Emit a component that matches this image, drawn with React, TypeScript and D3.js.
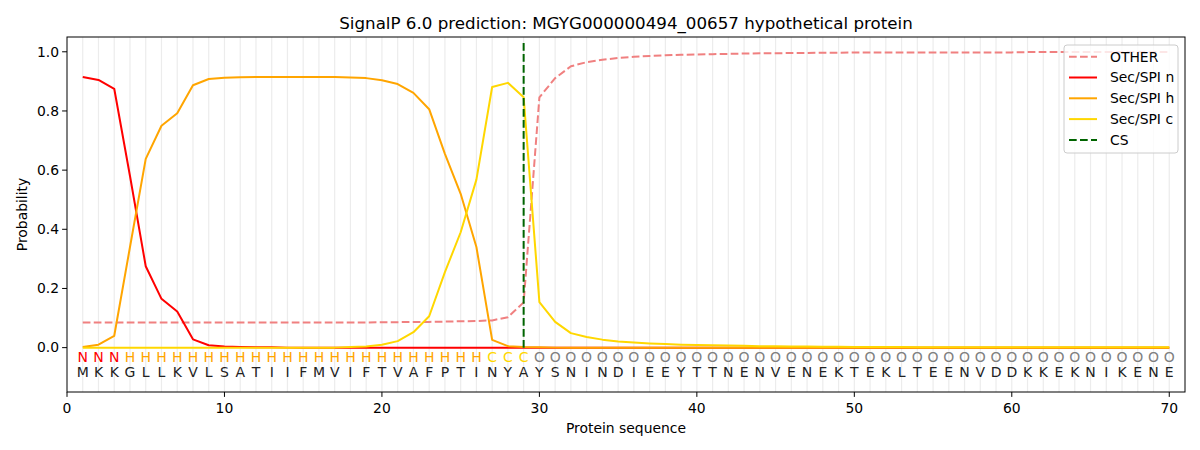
import * as d3 from 'd3';

// Sequence and per-residue predicted labels
const SEQUENCE = 'MKKGLLKVLSATIIFMVIFTVAFPTINYAYSNINDIEEYTTNENVENEKTEKLTEENVDDKKEKNIKENE'.split('');
const PRED_LABELS = 'NNNHHHHHHHHHHHHHHHHHHHHHHHCCCOOOOOOOOOOOOOOOOOOOOOOOOOOOOOOOOOOOOOOOOO'.split('');

const OTHER = [
  0.085, 0.085, 0.085, 0.085, 0.085, 0.085, 0.085, 0.085, 0.085, 0.085,
  0.085, 0.085, 0.085, 0.085, 0.085, 0.085, 0.085, 0.085, 0.085, 0.086,
  0.086, 0.087, 0.087, 0.088, 0.089, 0.090, 0.092, 0.103, 0.153, 0.846,
  0.911, 0.951, 0.965, 0.973, 0.979, 0.983, 0.986, 0.988, 0.990, 0.991,
  0.992, 0.993, 0.994, 0.995, 0.995, 0.996, 0.996, 0.997, 0.997, 0.998,
  0.998, 0.998, 0.998, 0.998, 0.998, 0.998, 0.998, 0.998, 0.998, 0.998,
  0.999, 0.999, 0.999, 0.999, 0.999, 0.999, 0.999, 0.999, 0.999, 0.999,
];
const SEC_N = [
  0.915, 0.905, 0.875, 0.580, 0.275, 0.165, 0.122, 0.028, 0.008, 0.004,
  0.002, 0.001, 0.001, 0, 0, 0, 0, 0, 0, 0,
  0, 0, 0, 0, 0, 0, 0, 0, 0, 0,
  0, 0, 0, 0, 0, 0, 0, 0, 0, 0,
  0, 0, 0, 0, 0, 0, 0, 0, 0, 0,
  0, 0, 0, 0, 0, 0, 0, 0, 0, 0,
  0, 0, 0, 0, 0, 0, 0, 0, 0, 0,
];
const SEC_H = [
  0.002, 0.010, 0.040, 0.340, 0.638, 0.750, 0.792, 0.887, 0.908, 0.912,
  0.914, 0.915, 0.915, 0.915, 0.915, 0.915, 0.915, 0.913, 0.911, 0.904,
  0.891, 0.861, 0.806, 0.655, 0.520, 0.340, 0.026, 0.005, 0.002, 0.001,
  0, 0, 0, 0, 0, 0, 0, 0, 0, 0,
  0, 0, 0, 0, 0, 0, 0, 0, 0, 0,
  0, 0, 0, 0, 0, 0, 0, 0, 0, 0,
  0, 0, 0, 0, 0, 0, 0, 0, 0, 0,
];
const SEC_C = [
  0, 0, 0, 0, 0, 0, 0, 0, 0, 0,
  0, 0, 0, 0, 0, 0, 0, 0.002, 0.004, 0.010,
  0.022, 0.052, 0.106, 0.255, 0.390, 0.568, 0.881, 0.895, 0.846, 0.154,
  0.087, 0.049, 0.036, 0.027, 0.021, 0.017, 0.014, 0.012, 0.010, 0.009,
  0.008, 0.007, 0.006, 0.005, 0.005, 0.004, 0.004, 0.003, 0.003, 0.002,
  0.002, 0.002, 0.002, 0.001, 0.001, 0.001, 0.001, 0.001, 0.001, 0.001,
  0.001, 0.001, 0.001, 0.001, 0.001, 0.001, 0.001, 0.001, 0.001, 0.001,
];
const CS_POS = 29;

const X_TICKS = [0, 10, 20, 30, 40, 50, 60, 70];
const Y_TICKS = [0, 0.2, 0.4, 0.6, 0.8, 1.0];

const LABEL_COLORS: Record<string, string> = { N: '#FF0000', H: '#FFA500', C: '#FFD700', O: '#808080' };

const SERIES = [
  { name: 'OTHER', values: OTHER, color: '#F08080', dash: '7.7,3.3' },
  { name: 'Sec/SPI n', values: SEC_N, color: '#FF0000', dash: null },
  { name: 'Sec/SPI h', values: SEC_H, color: '#FFA500', dash: null },
  { name: 'Sec/SPI c', values: SEC_C, color: '#FFD700', dash: null },
];

const W = 1200;
const H = 450;
const M = { left: 67, right: 15, top: 37, bottom: 58 };
const FONT = '"DejaVu Sans", sans-serif';

export default function App() {
  const x = d3.scaleLinear().domain([0, 71]).range([M.left, W - M.right]);
  const y = d3.scaleLinear().domain([-0.15, 1.05]).range([H - M.bottom, M.top]);
  const positions = d3.range(1, SEQUENCE.length + 1);

  const line = d3.line<number>()
    .x((_, i) => x(i + 1))
    .y((v) => y(v));

  const legendItems = [
    ...SERIES.map((s) => ({ name: s.name, color: s.color, dash: s.dash })),
    { name: 'CS', color: '#006400', dash: '7.7,3.3' },
  ];

  return (
    <div style={{ position: 'fixed', left: 0, top: 0, width: W, height: H, background: '#fff' }}>
      <svg width={W} height={H} style={{ display: 'block', fontFamily: FONT }}>
        <rect x={0} y={0} width={W} height={H} fill="#fff" />

        {/* per-residue gridlines */}
        {positions.map((p) => (
          <line key={`g${p}`} x1={x(p)} x2={x(p)} y1={y(1.05)} y2={y(-0.15)}
            stroke="#ececec" strokeWidth={1.2} />
        ))}

        {/* probability lines */}
        {SERIES.map((s) => (
          <path key={s.name} d={line(s.values) ?? ''} fill="none" stroke={s.color}
            strokeWidth={2} strokeDasharray={s.dash ?? undefined} strokeLinejoin="round" />
        ))}

        {/* cleavage site */}
        <line x1={x(CS_POS)} x2={x(CS_POS)} y1={y(0)} y2={y(1.037)}
          stroke="#006400" strokeWidth={2} strokeDasharray="7.7,3.3" />

        {/* predicted labels and sequence */}
        {positions.map((p, i) => (
          <g key={`t${p}`}>
            <text x={x(p)} y={y(-0.05)} textAnchor="middle" fontSize={14}
              fill={LABEL_COLORS[PRED_LABELS[i]]}>{PRED_LABELS[i]}</text>
            <text x={x(p)} y={y(-0.1)} textAnchor="middle" fontSize={14}
              fill="#222">{SEQUENCE[i]}</text>
          </g>
        ))}

        {/* frame */}
        <rect x={M.left} y={M.top} width={W - M.left - M.right} height={H - M.top - M.bottom}
          fill="none" stroke="#000" strokeWidth={1} />

        {/* x axis */}
        {X_TICKS.map((t) => (
          <g key={`xt${t}`}>
            <line x1={x(t)} x2={x(t)} y1={H - M.bottom} y2={H - M.bottom + 4.9} stroke="#000" />
            <text x={x(t)} y={H - M.bottom + 21} textAnchor="middle" fontSize={13.9} fill="#000">{t}</text>
          </g>
        ))}
        <text x={(M.left + W - M.right) / 2} y={H - 17} textAnchor="middle" fontSize={13.9}>Protein sequence</text>

        {/* y axis */}
        {Y_TICKS.map((t) => (
          <g key={`yt${t}`}>
            <line x1={M.left - 4.9} x2={M.left} y1={y(t)} y2={y(t)} stroke="#000" />
            <text x={M.left - 8} y={y(t)} dy="0.35em" textAnchor="end" fontSize={13.9}>{t.toFixed(1)}</text>
          </g>
        ))}
        <text transform={`translate(27,${(M.top + H - M.bottom) / 2}) rotate(-90)`} textAnchor="middle"
          fontSize={13.9}>Probability</text>

        {/* title */}
        <text x={(M.left + W - M.right) / 2} y={29} textAnchor="middle" fontSize={16.7}>
          SignalP 6.0 prediction: MGYG000000494_00657 hypothetical protein
        </text>

        {/* legend */}
        <g transform="translate(1064,45)">
          <rect x={0} y={0} width={114} height={108} rx={3} fill="#fff" fillOpacity={0.8}
            stroke="#cccccc" strokeWidth={1} />
          {legendItems.map((it, i) => (
            <g key={it.name} transform={`translate(0,${11.7 + i * 20.8})`}>
              <line x1={5} x2={33} y1={0} y2={0} stroke={it.color} strokeWidth={2}
                strokeDasharray={it.dash ?? undefined} />
              <text x={46} y={0} dy="0.35em" fontSize={13.9}>{it.name}</text>
            </g>
          ))}
        </g>
      </svg>
    </div>
  );
}
